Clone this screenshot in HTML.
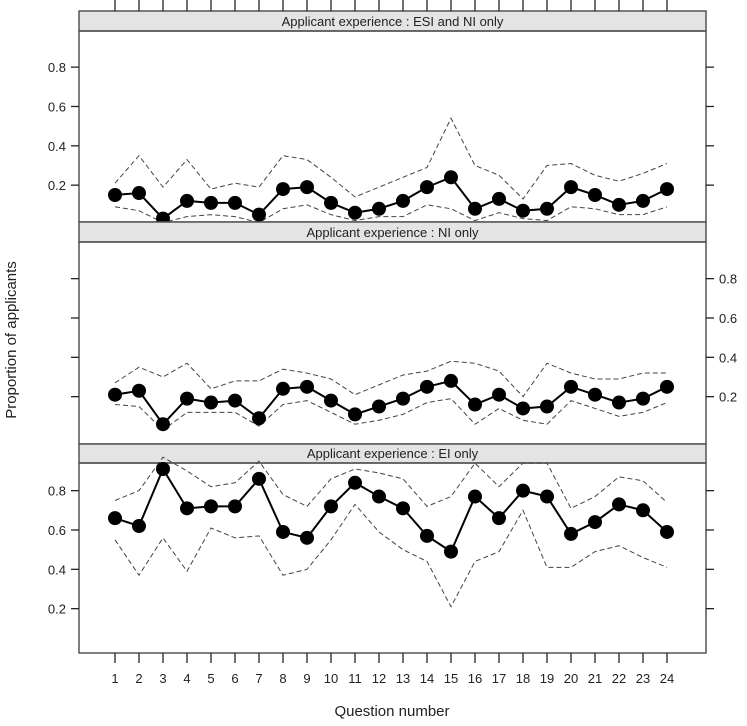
<!DOCTYPE html>
<html><head><meta charset="utf-8"><style>
body{margin:0;background:#fff}
svg text{font-family:"Liberation Sans",sans-serif;fill:#222}
</style></head><body>
<svg id="chart" width="747" height="721" xmlns="http://www.w3.org/2000/svg"></svg>
<script>
const questions=[1,2,3,4,5,6,7,8,9,10,11,12,13,14,15,16,17,18,19,20,21,22,23,24];
const yTicks=[0.2,0.4,0.6,0.8];
const panelTitles=["Applicant  experience : ESI and NI only","Applicant  experience : NI only","Applicant  experience : EI only"];
const esiMean=[0.15,0.16,0.03,0.12,0.11,0.11,0.05,0.18,0.19,0.11,0.06,0.08,0.12,0.19,0.24,0.08,0.13,0.07,0.08,0.19,0.15,0.10,0.12,0.18];
const esiUpper=[0.21,0.35,0.19,0.33,0.18,0.21,0.19,0.35,0.33,0.24,0.14,0.19,0.24,0.29,0.54,0.30,0.25,0.13,0.30,0.31,0.25,0.22,0.26,0.31];
const esiLower=[0.09,0.07,0.01,0.04,0.05,0.04,0.01,0.08,0.10,0.05,0.02,0.04,0.04,0.10,0.08,0.02,0.06,0.03,0.02,0.09,0.08,0.05,0.05,0.09];
const niMean=[0.21,0.23,0.06,0.19,0.17,0.18,0.09,0.24,0.25,0.18,0.11,0.15,0.19,0.25,0.28,0.16,0.21,0.14,0.15,0.25,0.21,0.17,0.19,0.25];
const niUpper=[0.27,0.35,0.30,0.37,0.24,0.28,0.28,0.34,0.32,0.29,0.21,0.26,0.31,0.33,0.38,0.37,0.33,0.20,0.37,0.32,0.29,0.29,0.32,0.32];
const niLower=[0.16,0.15,0.03,0.12,0.12,0.12,0.05,0.16,0.18,0.12,0.06,0.08,0.11,0.17,0.19,0.06,0.14,0.08,0.06,0.18,0.14,0.10,0.12,0.17];
const eiMean=[0.66,0.62,0.91,0.71,0.72,0.72,0.86,0.59,0.56,0.72,0.84,0.77,0.71,0.57,0.49,0.77,0.66,0.80,0.77,0.58,0.64,0.73,0.70,0.59];
const eiUpper=[0.75,0.80,0.97,0.90,0.82,0.84,0.95,0.78,0.72,0.86,0.91,0.89,0.86,0.72,0.77,0.94,0.82,0.94,0.94,0.71,0.77,0.87,0.85,0.74];
const eiLower=[0.55,0.37,0.56,0.39,0.61,0.56,0.57,0.37,0.40,0.55,0.73,0.59,0.50,0.44,0.21,0.44,0.49,0.70,0.41,0.41,0.49,0.52,0.46,0.41];

const svg=document.getElementById('chart');
const NS="http://www.w3.org/2000/svg";
function mk(tag,attrs,parent){const e=document.createElementNS(NS,tag);for(const k in attrs)e.setAttribute(k,attrs[k]);(parent||svg).appendChild(e);return e;}
const L=79,R=706;
function xs(q){return 115+(q-1)*24;}
const panels=[
 {strip:11,top:31,bot:222,y0:224.5,mean:esiMean,up:esiUpper,lo:esiLower,labSide:'left',key:'esi-ni'},
 {strip:222,top:242,bot:444,y0:436,mean:niMean,up:niUpper,lo:niLower,labSide:'right',key:'ni'},
 {strip:444,top:463,bot:653,y0:648,mean:eiMean,up:eiUpper,lo:eiLower,labSide:'left',key:'ei'}];
const k=196.7;
panels.forEach((p,pi)=>{
 const ys=v=>p.y0-v*k;
 const g=mk('g',{});
 
 
 const st=mk('rect',{x:L,y:p.strip,width:R-L,height:p.top-p.strip,fill:'#e4e4e4',stroke:'#555','stroke-width':1.5},g);
 
 
 const t=mk('text',{x:(L+R)/2,y:p.top-5,'text-anchor':'middle','font-size':13},g);
 t.textContent=panelTitles[pi];
 
 
 const fr=mk('rect',{x:L,y:p.top,width:R-L,height:p.bot-p.top,fill:'none',stroke:'#555','stroke-width':1.5},g);
 
 
 yTicks.forEach(v=>{
  const y=ys(v);
  mk('line',{x1:L-8,x2:L,y1:y,y2:y,stroke:'#222','stroke-width':1.3},g);
  mk('line',{x1:R,x2:R+8,y1:y,y2:y,stroke:'#222','stroke-width':1.3},g);
  const lt=mk('text',{x:p.labSide==='left'?L-13:R+13,y:y+5,'text-anchor':p.labSide==='left'?'end':'start','font-size':13},g);
  lt.textContent=String(v);
  
  
 });
 const path=arr=>arr.map((v,i)=>(i?'L':'M')+xs(questions[i])+','+ys(v)).join(' ');
 const u=mk('path',{d:path(p.up),fill:'none',stroke:'#444','stroke-width':1,'stroke-dasharray':'5,3'},g);
 
 
 const lo=mk('path',{d:path(p.lo),fill:'none',stroke:'#444','stroke-width':1,'stroke-dasharray':'5,3'},g);
 
 
 const m=mk('path',{d:path(p.mean),fill:'none',stroke:'#000','stroke-width':2},g);
 
 
 p.mean.forEach((v,i)=>{
  const c=mk('circle',{cx:xs(questions[i]),cy:ys(v),r:7,fill:'#000'},g);
  
  
 });
});
questions.forEach(q=>{
 const x=xs(q);
 mk('line',{x1:x,x2:x,y1:0,y2:11,stroke:'#222','stroke-width':1.3});
 mk('line',{x1:x,x2:x,y1:653,y2:663,stroke:'#222','stroke-width':1.3});
 const t=mk('text',{x:x,y:683,'text-anchor':'middle','font-size':13});
 t.textContent=String(q);
 
 
});
const xt=mk('text',{x:392,y:716,'text-anchor':'middle','font-size':15});
xt.textContent='Question number';


const yt=mk('text',{x:0,y:0,'text-anchor':'middle','font-size':15,transform:'translate(16,340) rotate(-90)'});
yt.textContent='Proportion of applicants';


</script>
</body></html>
